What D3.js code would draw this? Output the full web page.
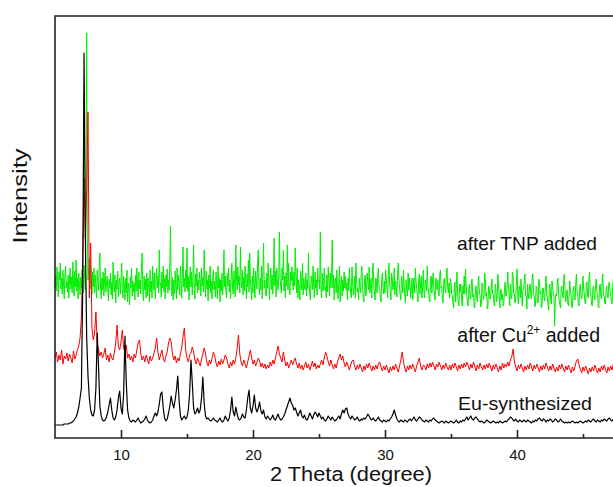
<!DOCTYPE html>
<html>
<head>
<meta charset="utf-8">
<script src="https://cdn.jsdelivr.net/npm/d3@7"></script>
<style>
  html, body { margin: 0; padding: 0; background: #fff; }
  svg { display: block; font-family: Arial, "Liberation Sans", sans-serif; }
</style>
</head>
<body>
<div id="chart"></div>
<script>
// 2 theta grid starts at 5.0 deg; black/red sampled every 0.1 deg, green every 0.05 deg
const thetaStart = 5.0;
const coarseStep = 0.1;
const fineStep = 0.05;

const xTicks = [10, 20, 30, 40];
const xMinorTicks = [15, 25, 35, 45];

const labels = ['Eu-synthesized', 'after Cu', 'after TNP added'];

// Eu-synthesized (black)
const euSynth = [
  13,13,13,13,13,13,13,14,14,14,
  14,15,15,16,17,19,21,25,31,40,
  50,150,385,200,100,62,40,28,23,22,
  28,50,105,70,32,22,18,17,18,21,
  26,33,40,28,20,18,21,28,40,47,
  30,24,45,102,55,28,20,17,16,18,
  17,16,18,20,17,15,16,17,19,22,
  18,16,15,16,18,22,25,22,26,34,
  44,46,30,20,17,19,25,32,42,35,
  30,38,48,62,38,22,18,20,22,19,
  21,28,45,78,55,30,24,26,30,25,
  28,40,61,35,22,19,20,18,17,18,
  20,18,17,16,18,20,17,16,18,22,
  19,17,20,28,41,26,22,31,24,19,
  18,20,24,21,20,28,40,48,30,25,
  32,43,30,26,30,36,27,24,28,21,
  19,22,20,18,20,23,19,18,21,24,
  20,18,19,21,24,28,32,36,40,35,
  33,28,30,26,22,25,28,22,20,23,
  19,18,21,25,22,19,23,26,24,21,
  25,22,19,21,18,17,19,22,20,18,
  21,19,17,18,20,22,19,24,28,25,
  29,30,24,21,19,22,20,18,19,21,
  18,17,19,18,20,19,21,24,22,19,
  18,20,18,17,19,21,18,17,16,18,
  17,16,18,17,19,21,24,28,23,19,
  17,16,18,17,16,18,17,16,18,19,
  17,19,21,18,17,19,21,20,18,17,
  16,18,17,16,18,17,19,20,18,17,
  16,15,16,17,16,15,17,16,15,16,
  17,16,15,16,18,16,15,17,16,18,
  17,19,21,18,20,22,19,18,20,21,
  19,17,16,17,16,15,16,18,17,16,
  15,16,17,16,15,16,15,17,16,15,
  16,17,16,18,19,21,20,18,17,19,
  17,16,18,17,16,18,17,16,18,17,
  16,15,17,16,18,17,19,20,18,17,
  19,18,16,18,17,19,18,16,17,19,
  18,16,17,19,17,16,15,16,15,16,
  15,16,17,16,15,16,15,16,17,16,
  15,16,17,16,18,17,16,18,19,17,
  16,18,17,16,18,17,19,18,17,19,
  20,18,17,19,18,17
];

// after Cu2+ added (red)
const afterCu = [
  80,86,76,83,78,88,74,82,79,85,
  77,84,80,75,87,79,83,88,92,100,
  121,180,260,200,250,326,140,195,110,98,
  105,126,95,88,82,86,80,84,90,78,
  83,76,85,80,78,86,95,113,92,88,
  96,108,90,86,93,80,84,78,82,76,
  84,80,88,95,98,84,78,82,76,83,
  79,74,82,77,80,85,90,100,86,78,
  83,88,80,76,82,86,95,100,96,84,
  78,82,75,80,77,84,90,102,110,88,
  80,76,83,85,91,86,78,74,80,76,
  72,79,84,90,85,76,72,78,74,80,
  86,82,75,71,77,73,79,74,78,83,
  80,74,70,76,72,78,74,80,90,103,
  84,76,72,78,74,70,76,82,88,80,
  74,78,72,76,80,77,71,75,70,74,
  69,73,70,76,72,78,74,80,86,92,
  84,80,76,86,78,72,76,70,74,78,
  73,77,80,74,70,75,69,73,68,72,
  76,70,74,68,72,77,71,75,69,73,
  70,74,78,73,80,86,82,76,72,78,
  73,69,74,70,76,80,84,78,82,75,
  71,76,72,68,73,77,78,72,68,73,
  69,74,70,66,72,68,74,70,75,71,
  67,72,68,73,69,74,76,71,67,72,
  68,73,69,65,71,67,72,68,74,70,
  66,72,78,86,76,70,66,72,68,73,
  69,74,70,66,72,76,80,72,68,73,
  72,68,74,70,75,71,76,72,68,74,
  71,76,72,68,73,69,75,71,68,73,
  68,74,70,75,71,67,73,69,74,70,
  75,71,76,72,68,74,70,76,72,67,
  73,69,75,71,68,73,69,74,70,75,
  71,67,73,69,74,70,66,72,68,75,
  70,74,71,76,72,78,81,89,77,71,
  67,73,69,74,70,66,72,68,73,69,
  75,71,67,73,69,74,70,66,72,68,
  73,69,75,71,67,72,68,74,70,66,
  71,67,73,69,74,70,66,72,68,73,
  69,65,71,67,72,77,79,73,69,65,
  71,67,72,68,64,70,66,71,67,73,
  69,65,70,66,72,68,73,69,65,71,
  67,72,68,74,70,66,71,67
];

// after TNP added (green), one row per degree
const afterTnp = [
  150,162,147,171,156,141,166,158,175,149,160,144,168,153,139,164,172,150,157,146,
  163,140,158,170,149,161,145,176,155,142,167,151,178,147,160,139,165,154,143,161,
  150,168,156,145,173,160,148,250,405,200,158,167,180,149,172,155,143,166,151,170,
  145,163,152,140,168,155,147,172,185,151,139,160,148,166,142,157,170,146,154,162,
  148,137,159,150,165,143,156,139,176,152,146,163,135,158,149,167,141,155,160,144,
  158,175,149,140,162,153,138,160,145,168,136,155,148,133,161,150,170,142,157,146,
  155,138,163,147,170,152,141,166,149,158,144,172,185,150,137,162,148,159,140,165,
  142,160,151,136,168,146,157,140,172,155,148,165,139,158,170,150,162,145,188,153,
  155,141,166,150,172,146,160,139,163,151,169,145,158,148,175,212,156,142,161,138,
  158,144,167,152,139,170,148,163,155,143,172,157,140,165,191,151,160,146,168,150,
  190,147,162,138,158,171,151,166,143,160,193,149,139,164,152,170,145,158,148,166,
  158,142,170,152,161,146,188,155,141,167,149,158,137,163,150,172,145,157,139,160,
  168,148,157,141,166,152,139,172,150,160,136,158,147,165,143,155,188,151,162,146,
  140,165,152,170,146,158,139,163,175,150,144,167,156,141,193,160,148,171,153,162,
  145,191,158,150,168,143,161,147,172,155,139,164,151,178,146,185,159,148,138,162,
  145,170,153,140,167,158,149,176,188,152,143,160,148,172,139,165,195,150,158,144,
  142,165,150,175,157,138,160,170,148,163,144,158,200,152,167,141,170,155,148,162,
  206,160,151,145,170,158,188,147,162,140,165,152,193,148,175,150,143,166,157,171,
  158,148,166,152,190,162,145,170,140,158,152,138,167,160,148,175,143,160,151,148,
  165,142,158,150,185,155,144,138,162,160,148,172,153,140,166,150,158,143,170,156,
  158,149,206,150,140,165,147,155,170,148,152,140,163,146,171,158,142,165,150,160,
  198,150,163,138,157,160,145,168,150,139,155,172,136,151,162,142,158,147,166,150,
  162,148,155,138,160,147,170,152,145,140,171,155,143,150,162,140,175,158,146,150,
  138,160,152,145,166,172,150,141,136,158,163,142,150,165,156,148,171,145,152,160,
  140,168,175,152,146,138,160,157,145,162,170,151,148,140,136,158,165,150,144,157,
  145,168,158,150,140,162,175,155,146,138,165,160,148,152,170,143,157,150,141,162,
  175,160,150,143,138,162,156,145,168,155,142,135,158,150,142,165,148,160,153,140,
  148,160,138,152,160,145,170,157,150,142,136,158,164,144,155,162,140,150,168,146,
  140,158,155,147,172,150,148,138,136,160,162,145,157,165,150,142,138,160,155,148,
  158,146,142,163,168,150,152,138,135,157,160,148,145,166,170,150,145,155,140,160,
  156,144,142,134,130,152,156,136,149,166,144,137,132,154,146,154,139,132,152,144,
  162,144,169,152,142,134,132,149,154,139,139,156,159,141,144,132,130,149,152,140,
  136,154,162,145,143,131,134,155,152,138,141,165,159,142,146,129,133,152,149,139,
  139,151,159,144,144,135,132,154,149,136,141,164,154,142,130,147,149,138,144,132,
  134,149,156,142,142,151,166,152,144,132,154,140,139,166,162,144,144,135,139,154,
  169,146,134,152,152,140,159,144,132,149,149,156,164,142,142,129,154,144,139,151,
  154,143,139,160,164,146,142,131,134,152,150,137,135,159,156,144,147,130,133,150,
  150,140,137,154,162,144,140,133,128,152,154,138,134,157,152,144,142,112,136,144,
  142,154,160,144,137,133,130,151,152,142,140,162,164,143,136,145,148,135,132,144,
  157,146,142,132,130,149,152,140,138,154,164,146,142,134,132,150,154,141,139,146,
  162,149,144,135,134,154,156,142,140,159,166,146,142,134,132,149,152,140,138,152,
  159,146,144,132,130,151,154,142,139,156,164,144,142,135,134,150,152,142,140,154,
  156,147,144,136,134,152,159,144,142,148
];

const width = 613;
const height = 487;

const x = d3.scaleLinear().domain([5, 50]).range([55, 649]);
const y = d3.scaleLinear().domain([0, 422]).range([438, 16]);

const svg = d3.select('#chart').append('svg')
  .attr('width', width)
  .attr('height', height);

const toPoints = (arr, step) => arr.map((v, i) => [thetaStart + i * step, v]);

const line = d3.line()
  .x(d => x(d[0]))
  .y(d => y(d[1]));

// drawn bottom to top
const series = [
  { data: afterTnp, step: fineStep, color: '#00ee00', w: 1 },
  { data: afterCu, step: coarseStep, color: '#ff0000', w: 1 },
  { data: euSynth, step: coarseStep, color: '#000000', w: 1.2 }
];

svg.selectAll('.trace')
  .data(series)
  .enter().append('path')
  .attr('class', 'trace')
  .attr('d', d => line(toPoints(d.data, d.step)))
  .attr('fill', 'none')
  .attr('stroke', d => d.color)
  .attr('stroke-width', d => d.w)
  .attr('stroke-linejoin', 'round');

// frame: left, top and bottom (right side runs off the window)
svg.append('path')
  .attr('d', `M${x(50)},${y(422)}H${x(5)}V${y(0)}H${x(50)}`)
  .attr('fill', 'none')
  .attr('stroke', '#222')
  .attr('stroke-width', 1.6);

// bottom axis, ticks pointing inward
const xAxis = d3.axisBottom(x)
  .tickValues(xTicks)
  .tickSize(-8)
  .tickPadding(11)
  .tickFormat(d3.format('d'));

const gx = svg.append('g')
  .attr('transform', `translate(0,${y(0)})`)
  .call(xAxis);
gx.select('.domain').remove();
gx.selectAll('.tick line').attr('stroke', '#222').attr('stroke-width', 1.6);
gx.selectAll('.tick text')
  .attr('fill', '#111')
  .style('font-size', '15px')
  .style('font-family', 'Arial, "Liberation Sans", sans-serif');

svg.append('g')
  .attr('transform', `translate(0,${y(0)})`)
  .call(d3.axisBottom(x).tickValues(xMinorTicks).tickSize(-4).tickFormat(''))
  .call(g => g.select('.domain').remove())
  .selectAll('.tick line').attr('stroke', '#222').attr('stroke-width', 1.6);

// axis titles
svg.append('text')
  .attr('x', 351)
  .attr('y', 481)
  .attr('text-anchor', 'middle')
  .attr('textLength', 162)
  .attr('lengthAdjust', 'spacingAndGlyphs')
  .style('font-size', '20px')
  .attr('fill', '#111')
  .text('2 Theta (degree)');

svg.append('text')
  .attr('transform', 'translate(27,196) rotate(-90)')
  .attr('text-anchor', 'middle')
  .attr('textLength', 95)
  .attr('lengthAdjust', 'spacingAndGlyphs')
  .style('font-size', '21px')
  .attr('fill', '#111')
  .text('Intensity');

// trace labels
svg.append('text')
  .attr('x', 458)
  .attr('y', 410)
  .attr('textLength', 134)
  .attr('lengthAdjust', 'spacingAndGlyphs')
  .style('font-size', '19px')
  .attr('fill', '#111')
  .text(labels[0]);

const cu = svg.append('text')
  .attr('x', 600)
  .attr('y', 342)
  .attr('text-anchor', 'end')
  .style('font-size', '19.5px')
  .attr('fill', '#111');
cu.append('tspan').text(labels[1]);
cu.append('tspan').attr('dy', -8).style('font-size', '12px').text('2+');
cu.append('tspan').attr('dy', 8).text(' added');

svg.append('text')
  .attr('x', 457)
  .attr('y', 250)
  .attr('textLength', 140)
  .attr('lengthAdjust', 'spacingAndGlyphs')
  .style('font-size', '19px')
  .attr('fill', '#111')
  .text(labels[2]);
</script>
</body>
</html>
